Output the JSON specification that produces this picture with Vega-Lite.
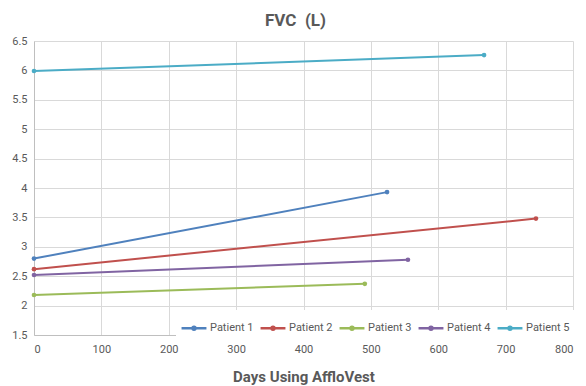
{
  "$schema": "https://vega.github.io/schema/vega-lite/v6.json",
  "width": 539,
  "height": 294,
  "autosize": {"type": "none"},
  "padding": {"left": 34, "top": 41, "right": 13, "bottom": 51},
  "background": "white",
  "title": {"text": "FVC\u00a0 (L)", "fontSize": 17, "fontWeight": "bold", "color": "#595959", "font": "Roboto", "anchor": "middle", "offset": 5, "dx": -8},
  "config": {
    "view": {"stroke": null},
    "axis": {"labelFont": "Roboto", "labelColor": "#595959", "labelFontSize": 11, "gridColor": "#d9d9d9", "gridWidth": 1, "domainColor": "#bfbfbf", "ticks": false, "titleFont": "Roboto"}
  },
  "data": {"values": [
    {"patient": "Patient 1", "days": 0, "fvc": 2.8},
    {"patient": "Patient 1", "days": 524, "fvc": 3.93},
    {"patient": "Patient 2", "days": 0, "fvc": 2.62},
    {"patient": "Patient 2", "days": 745, "fvc": 3.48},
    {"patient": "Patient 3", "days": 0, "fvc": 2.18},
    {"patient": "Patient 3", "days": 491, "fvc": 2.37},
    {"patient": "Patient 4", "days": 0, "fvc": 2.52},
    {"patient": "Patient 4", "days": 555, "fvc": 2.78},
    {"patient": "Patient 5", "days": 0, "fvc": 5.99},
    {"patient": "Patient 5", "days": 668, "fvc": 6.26}
  ]},
  "encoding": {
    "x": {"field": "days", "type": "quantitative", "scale": {"domain": [0, 800], "nice": false}, "axis": {"values": [0,100,200,300,400,500,600,700,800], "title": "Days Using AffloVest", "titleFontSize": 15, "titleFontWeight": "bold", "titleColor": "#595959", "labelPadding": 8, "titlePadding": 15}},
    "y": {"field": "fvc", "type": "quantitative", "scale": {"domain": [1.5, 6.5], "nice": false, "zero": false}, "axis": {"values": [1.5,2,2.5,3,3.5,4,4.5,5,5.5,6,6.5], "format": "~g", "title": null, "labelPadding": 7}},
    "color": {"field": "patient", "type": "nominal", "scale": {"range": ["#4F81BD", "#C0504D", "#9BBB59", "#8064A2", "#4BACC6"]},
      "legend": {"title": null, "orient": "none", "legendX": 142, "legendY": 269, "direction": "horizontal", "fillColor": "white", "padding": 4, "labelFont": "Roboto", "labelColor": "#595959", "labelFontSize": 11, "columnPadding": 1, "symbolType": "M-1,0L1,0M-0.12,0A0.12,0.12,0,1,0,0.12,0A0.12,0.12,0,1,0,-0.12,0Z", "symbolSize": 620, "symbolStrokeWidth": 2.5, "labelOffset": 2,
        "encode": {"symbols": {"update": {"fill": {"scale": "color", "field": "value"}, "stroke": {"scale": "color", "field": "value"}}}}}
    }
  },
  "layer": [
    {"mark": {"type": "line", "strokeWidth": 2}},
    {"mark": {"type": "point", "filled": true, "size": 22, "opacity": 1}}
  ]
}
